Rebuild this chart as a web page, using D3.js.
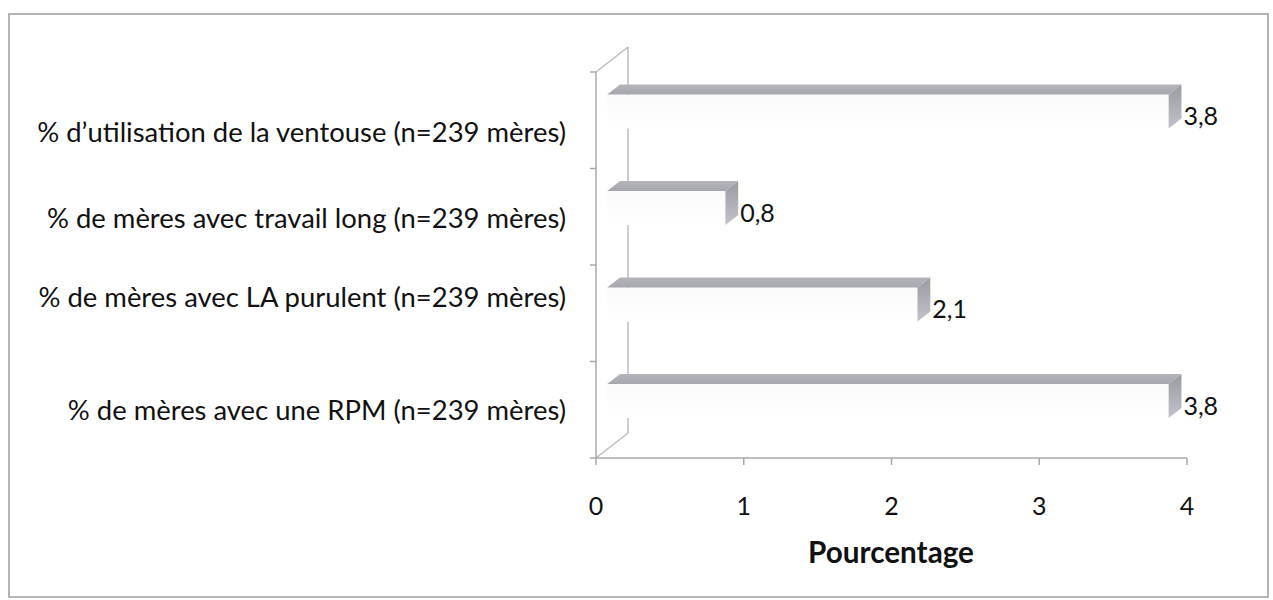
<!DOCTYPE html>
<html>
<head>
<meta charset="utf-8">
<script src="https://cdn.jsdelivr.net/npm/d3@7"></script>
<style>
  html, body { margin: 0; padding: 0; background: #fff; }
  svg { display: block; }
  text { font-family: Lato, "Open Sans", sans-serif; fill: #111; }
</style>
</head>
<body>
<svg id="chart" width="1273" height="600"></svg>
<script>
// ---- Data ----
const categories = [
  "% d\u2019utilisation de la ventouse (n=239 m\u00e8res)",
  "% de m\u00e8res avec travail long (n=239 m\u00e8res)",
  "% de m\u00e8res avec LA purulent (n=239 m\u00e8res)",
  "% de m\u00e8res avec une RPM (n=239 m\u00e8res)"
];
const values = [3.8, 0.8, 2.1, 3.8];
const valueLabels = ["3,8", "0,8", "2,1", "3,8"];
const xTicks = [0, 1, 2, 3, 4];
const xTickLabels = ["0", "1", "2", "3", "4"];
const axisTitle = "Pourcentage";

// ---- Layout ----
const svg = d3.select("#chart");
const x0 = 596, x1 = 1187, yTop = 72, yBot = 458;
const depth = { dx: 32, dy: -25 };       // full depth of the 3D box
const barFront = 0.35, barBack = 0.75;   // bar position inside the depth

const x = d3.scaleLinear().domain([0, 4]).range([x0, x1]);
const y = d3.scaleBand().domain(categories).range([yTop, yBot]).paddingInner(0.65).paddingOuter(0.325);
const yOuter = d3.scaleBand().domain(categories).range([yTop, yBot]);

// gradients
const defs = svg.append("defs");
const gTop = defs.append("linearGradient").attr("id", "gTop").attr("x1", 0).attr("y1", 0).attr("x2", 0).attr("y2", 1);
gTop.append("stop").attr("offset", "0%").attr("stop-color", "#b4b4bb");
gTop.append("stop").attr("offset", "100%").attr("stop-color", "#a6a6ae");
const gSide = defs.append("linearGradient").attr("id", "gSide").attr("x1", 0).attr("y1", 0).attr("x2", 0).attr("y2", 1);
gSide.append("stop").attr("offset", "0%").attr("stop-color", "#9a9aa2");
gSide.append("stop").attr("offset", "100%").attr("stop-color", "#c2c2ca");
const gFront = defs.append("linearGradient").attr("id", "gFront").attr("x1", 0).attr("y1", 0).attr("x2", 0).attr("y2", 1);
gFront.append("stop").attr("offset", "0%").attr("stop-color", "#fafafb");
gFront.append("stop").attr("offset", "100%").attr("stop-color", "#ffffff");

// outer frame
svg.append("rect").attr("x", 9).attr("y", 14).attr("width", 1259).attr("height", 583)
  .attr("fill", "#fff").attr("stroke", "#b4b4b4").attr("stroke-width", 2);

// walls: back corner line & diagonals
const wallColor = "#bdbdbd";
const walls = svg.append("g").attr("stroke", wallColor).attr("stroke-width", 1.5).attr("fill", "none");
walls.append("line").attr("x1", x0 + depth.dx).attr("y1", yTop + depth.dy).attr("x2", x0 + depth.dx).attr("y2", yBot + depth.dy);
walls.append("line").attr("x1", x0).attr("y1", yTop).attr("x2", x0 + depth.dx).attr("y2", yTop + depth.dy);
walls.append("line").attr("x1", x0).attr("y1", yBot).attr("x2", x0 + depth.dx).attr("y2", yBot + depth.dy);

// bars (3D plates)
const P = (px, py, d) => [px + depth.dx * d, py + depth.dy * d];
const poly = pts => "M" + pts.map(p => p.join(",")).join("L") + "Z";
const bars = svg.append("g");
categories.forEach((c, i) => {
  const xl = x(0), xr = x(values[i]);
  const yt = y(c), yb = y(c) + y.bandwidth();
  const fTL = P(xl, yt, barFront), fTR = P(xr, yt, barFront), fBR = P(xr, yb, barFront), fBL = P(xl, yb, barFront);
  const bTL = P(xl, yt, barBack), bTR = P(xr, yt, barBack), bBR = P(xr, yb, barBack);
  bars.append("path").attr("d", poly([fTL, fTR, fBR, fBL])).attr("fill", "url(#gFront)");
  bars.append("path").attr("d", poly([fTL, bTL, bTR, fTR])).attr("fill", "url(#gTop)");
  bars.append("path").attr("d", poly([fTR, bTR, bBR, fBR])).attr("fill", "url(#gSide)");
  bars.append("text")
    .attr("x", bTR[0] + 2)
    .attr("y", (fTR[1] + fBR[1]) / 2 + 3.5)
    .attr("dominant-baseline", "central")
    .attr("font-size", 25)
    .text(valueLabels[i]);
});

// category axis (front left edge)
const axisColor = "#a8a8a8";
svg.append("line").attr("x1", x0).attr("y1", yTop).attr("x2", x0).attr("y2", yBot)
  .attr("stroke", axisColor).attr("stroke-width", 1.5);
const catTicks = categories.map(c => yOuter(c)).concat([yBot]);
svg.append("g").selectAll("line").data(catTicks).join("line")
  .attr("x1", x0 - 6).attr("x2", x0).attr("y1", d => d).attr("y2", d => d)
  .attr("stroke", axisColor).attr("stroke-width", 1.5);

// value axis (front floor edge)
svg.append("line").attr("x1", x0).attr("y1", yBot).attr("x2", x1).attr("y2", yBot)
  .attr("stroke", axisColor).attr("stroke-width", 1.5);
svg.append("g").selectAll("line").data(xTicks).join("line")
  .attr("x1", d => x(d)).attr("x2", d => x(d)).attr("y1", yBot).attr("y2", yBot + 7)
  .attr("stroke", axisColor).attr("stroke-width", 1.5);
svg.append("g").selectAll("text").data(xTicks).join("text")
  .attr("x", d => x(d)).attr("y", 505)
  .attr("text-anchor", "middle").attr("dominant-baseline", "central")
  .attr("font-size", 25)
  .text((d, i) => xTickLabels[i]);

// category labels
const catLabelOffset = [11, 1, -17, 0];
const labels = svg.append("g").selectAll("text").data(categories).join("text")
  .attr("x", 566)
  .attr("y", (d, i) => yOuter(d) + yOuter.bandwidth() / 2 + catLabelOffset[i])
  .attr("text-anchor", "end").attr("dominant-baseline", "central")
  .attr("font-size", 22)
  .text(d => d);
const w0 = labels.nodes()[0].getComputedTextLength();
labels.attr("font-size", 22 * 529 / w0);

// axis title
const title = svg.append("text").attr("x", 891).attr("y", 551)
  .attr("text-anchor", "middle").attr("dominant-baseline", "central")
  .attr("font-size", 22).attr("font-weight", "bold")
  .text(axisTitle);
const wt = title.node().getComputedTextLength();
title.attr("font-size", 22 * 166 / wt);
</script>
</body>
</html>
